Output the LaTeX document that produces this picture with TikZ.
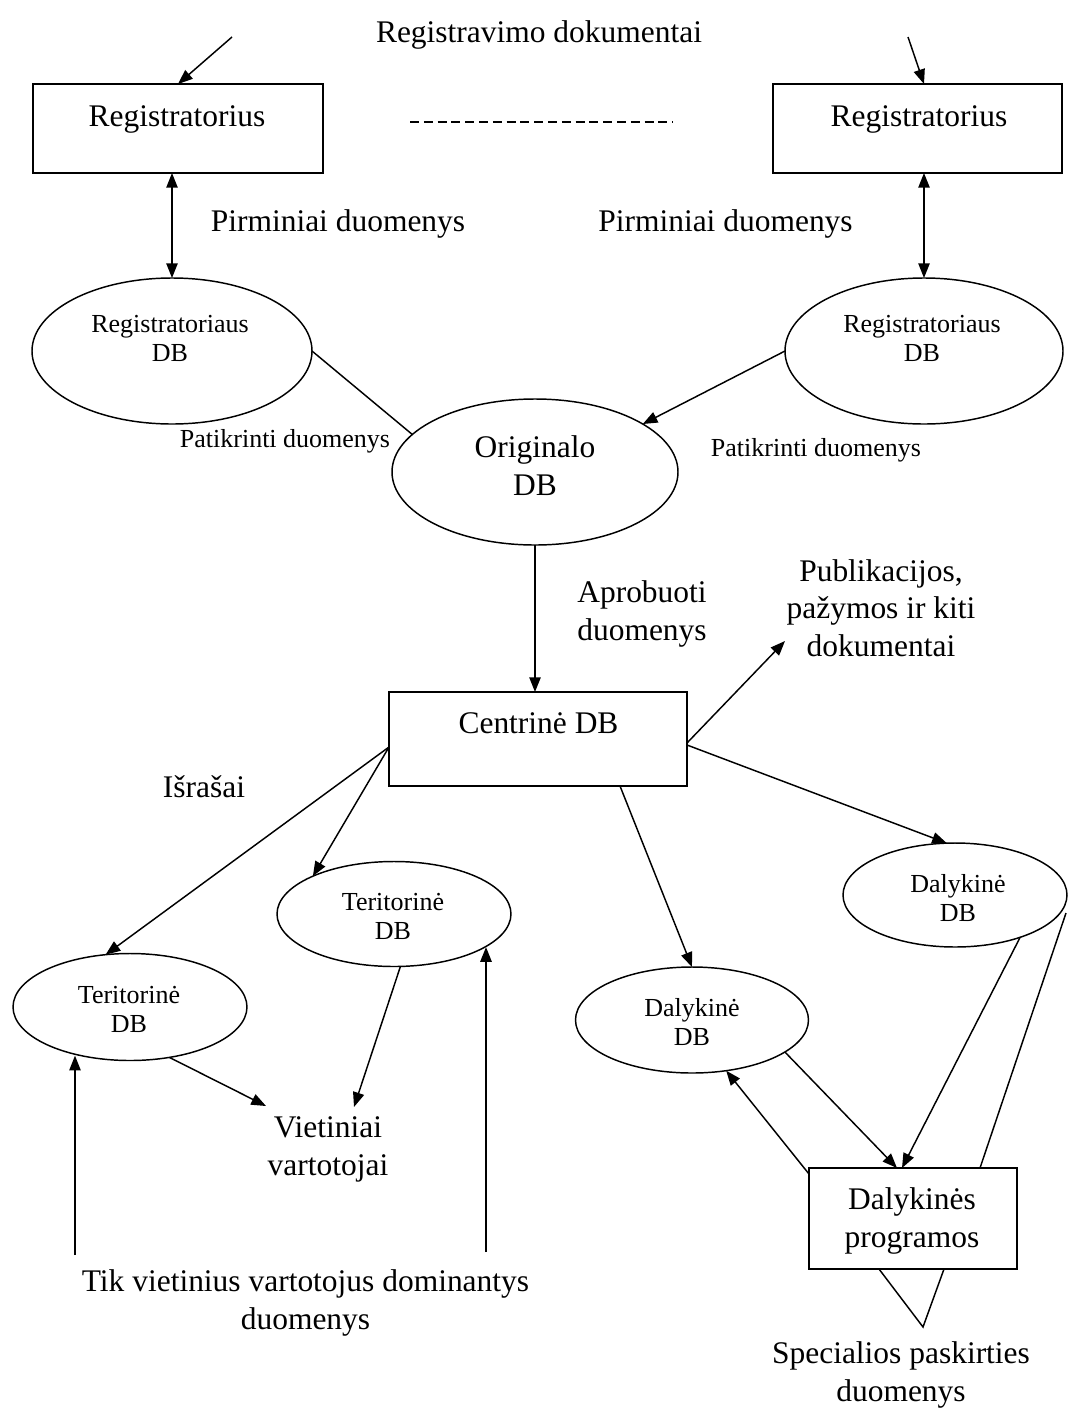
\documentclass[tikz,border=0pt]{standalone}
\usepackage{fontspec}
\setmainfont{Liberation Serif}
\usetikzlibrary{arrows.meta,calc,shapes.geometric}
\newcommand\largetext{\fontsize{23.6pt}{28pt}\selectfont}
\newcommand\smalltext{\fontsize{19.5pt}{21.75pt}\selectfont}

\begin{document}
\begin{tikzpicture}[x=0.75pt,y=-0.75pt,
  line width=1.1pt,
  >={Triangle[length=11pt,width=8.5pt]},
  box/.style={draw,rectangle,inner sep=0pt,outer sep=0pt},
  db/.style={draw,ellipse,inner sep=0pt,outer sep=0pt},
  big/.style={font=\largetext,inner sep=0pt,anchor=base,align=center},
  small/.style={font=\smalltext,inner sep=0pt,anchor=base,align=center},
  dashline/.style={dash pattern=on 6.75pt off 3.6pt},
]
\fill[white] (0,0) rectangle (1068,1410);
\useasboundingbox (0,0) rectangle (1068,1410);

% ---- shapes ----
\node[box,minimum width=217.5pt,minimum height=66.75pt] (regA) at (178,128.5) {};
\node[box,minimum width=216.75pt,minimum height=66.75pt] (regB) at (917.5,128.5) {};
\node[db,minimum width=210pt,minimum height=109.5pt] (dbA) at (172,351) {};
\node[db,minimum width=208.5pt,minimum height=109.5pt] (dbB) at (924,351) {};
\node[db,minimum width=214.5pt,minimum height=109.5pt] (orig) at (535,472) {};
\node[box,minimum width=223.5pt,minimum height=70.5pt] (cent) at (538,739) {};
\node[db,minimum width=175.5pt,minimum height=78.75pt] (terB) at (394,914) {};
\node[db,minimum width=175.5pt,minimum height=80.25pt] (terA) at (130,1007) {};
\node[db,minimum width=168pt,minimum height=78pt] (dalB) at (955,895) {};
\node[db,minimum width=174.75pt,minimum height=79.5pt] (dalA) at (692,1020) {};
\node[box,minimum width=156pt,minimum height=75.75pt] (prog) at (913,1218.5) {};

% ---- texts (multi-line nodes sit on the baseline of their last line) ----
\node[big] (tDocs) at (539,42) {Registravimo dokumentai};
\node[big] (tRegA) at (177,126) {Registratorius};
\node[big] (tRegB) at (919,126) {Registratorius};
\node[big] (tPrimA) at (338,231) {Pirminiai duomenys};
\node[big] (tPrimB) at (725.5,231) {Pirminiai duomenys};
\node[small] (tDbA) at (170,361) {Registratoriaus\\DB};
\node[small] (tDbB) at (922,361) {Registratoriaus\\DB};
\node[small] (tChkA) at (285,447) {Patikrinti duomenys};
\node[small] (tChkB) at (816,456) {Patikrinti duomenys};
\node[big] (tOrig) at (535,495) {Originalo\\DB};
\node[big] (tAppr) at (642,640) {Aprobuoti\\duomenys};
\node[big] (tPub) at (881,656) {Publikacijos,\\pažymos ir kiti\\dokumentai};
\node[big] (tCent) at (538.5,733) {Centrinė DB};
\node[big] (tExtr) at (204,797) {Išrašai};
\node[small] (tTerB) at (393,939) {Teritorinė\\DB};
\node[small] (tTerA) at (129,1032) {Teritorinė\\DB};
\node[small] (tDalB) at (958,921) {Dalykinė\\DB};
\node[small] (tDalA) at (692,1045) {Dalykinė\\DB};
\node[big] (tLocal) at (328,1175) {Vietiniai\\vartotojai};
\node[big] (tOnly) at (305.5,1329) {Tik vietinius vartotojus dominantys\\duomenys};
\node[big] (tProg) at (912,1247) {Dalykinės\\programos};
\node[big] (tSpec) at (901,1401) {Specialios paskirties\\duomenys};

% ---- free ends ----
\coordinate (srcA) at (232,37);
\coordinate (srcB) at (908,37);
\coordinate (dashL) at (410,122);
\coordinate (dashR) at (673,122);
\coordinate (pubTip) at (785,641);
\coordinate (vietL) at (266,1106);
\coordinate (vietR) at (354,1107);
\coordinate (localA) at (75,1255);
\coordinate (localB) at (486,1252);
\coordinate (spec) at (923,1327);

% ---- connectors ----
\draw[->] (srcA) -- (regA.north);
\draw[->] (srcB) -- ($(regB.north)+(6.5,0)$);
\draw[dashline] (dashL) -- (dashR);
\draw[<->] (dbA.north) -- (dbA.north |- regA.south);
\draw[<->] (dbB.north) -- (dbB.north |- regB.south);
\draw (dbA.east) -- (orig.163);
\draw[->] (dbB.west) -- (orig.24);
\draw[->] (orig.south) -- (orig.south |- cent.north);
\draw[->] ($(cent.east)+(0,4)$) -- (pubTip);
\draw[->] ($(cent.east)+(0,6)$) -- (dalB.99);
\draw[->] ($(cent.south)+(82,0)$) -- (dalA.north);
\draw[->] ($(cent.west)+(0,8)$) -- (terA.115);
\draw[->] ($(cent.west)+(0,8)$) -- (terB.155);
\draw[->] (terA.-52) -- (vietL);
\draw[->] (terB.-83) -- (vietR);
\draw[->] (localA) -- (localA |- terA.-135);
\draw[->] (localB) -- (localB |- terB.-20);
\draw[->] (dalA.-19) -- ($(prog.north)+(-16,0)$);
\draw[->] (dalB.-33) -- ($(prog.north)+(-11,0)$);
\draw[->] ($(prog.north west)+(0,6)$) -- (dalA.-56);
\draw ($(prog.north)+(67,0)$) -- ($(dalB.east)+(-1,18)$);
\draw ($(prog.south)+(-34,0)$) -- (spec) -- ($(prog.south)+(31,0)$);
\end{tikzpicture}
\end{document}
